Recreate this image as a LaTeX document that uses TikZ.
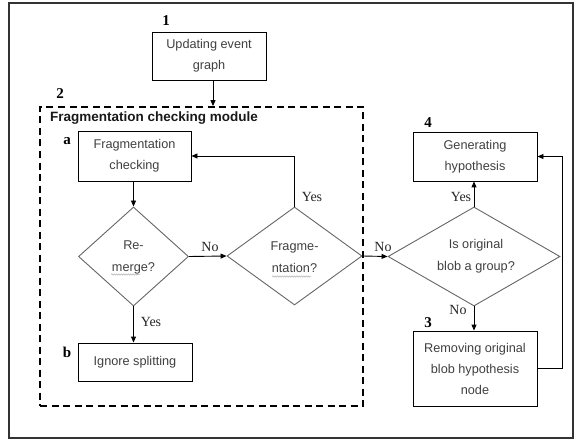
\documentclass[tikz,border=0pt]{standalone}
\usepackage{fontspec}
\setmainfont{Liberation Sans}
\newfontfamily\serifb{Liberation Serif}
\usetikzlibrary{arrows.meta,shapes.geometric,decorations.pathmorphing}
\definecolor{txt}{gray}{0.25}
\definecolor{dline}{gray}{0.4}
\begin{document}
\begin{tikzpicture}[x=1pt,y=-1pt,
  box/.style={draw=black,line width=0.9pt,fill=white,inner sep=0pt,align=center,
    text=txt,font=\fontsize{12.7}{21}\selectfont},
  dia/.style={diamond,draw=dline,line width=0.9pt,fill=white,inner sep=0pt},
  dtext/.style={align=center,text=txt,font=\fontsize{12.7}{22}\selectfont,inner sep=0pt},
  yn/.style={font=\serifb\fontsize{14}{14}\selectfont,inner sep=0pt,text=black!85},
  num/.style={font=\serifb\bfseries\fontsize{15}{15}\selectfont,inner sep=0pt},
  arr/.style={draw=black,line width=0.9pt,-{Triangle[length=6pt,width=5pt]}},
  squig/.style={draw=gray!60,line width=0.5pt,decorate,decoration={snake,amplitude=0.7pt,segment length=2.4pt}}
]
\useasboundingbox (0,0) rectangle (576,441);
\node[draw=black!80,line width=1.6pt,minimum width=564pt,minimum height=435pt,inner sep=0pt] (frame) at (291,220.5) {};

% module
\node[draw=black,line width=1.8pt,dash pattern=on 7pt off 4.5pt,minimum width=323pt,minimum height=299pt,inner sep=0pt] (module) at (201.5,256.5) {};
\node[anchor=west,font=\bfseries\fontsize{13.5}{13.5}\selectfont,inner sep=0pt,text=black!90] (modtitle) at (50,118) {Fragmentation checking module};

% boxes
\node[box,minimum width=114pt,minimum height=48pt] (b1) at (209,56) {Updating event\\graph};
\node[box,minimum width=113pt,minimum height=50pt] (ba) at (134.5,156) {Fragmentation\\checking};
\node[box,minimum width=114pt,minimum height=38pt] (bb) at (135,362) {Ignore splitting};
\node[box,minimum width=124pt,minimum height=49pt] (b4) at (475,156.5) {Generating\\hypothesis};
\node[box,minimum width=124pt,minimum height=75pt] (b3) at (475,368.5) {Removing original\\blob hypothesis\\node};

% diamonds
\node[dia,minimum width=110pt,minimum height=99pt] (rm) at (133.5,256.5) {};
\node[dtext] (rmt) at (133.5,257) {Re-\\merge?};
\node[dia,minimum width=135pt,minimum height=98pt] (fr) at (294.5,256) {};
\node[dtext] (frt) at (294.5,257) {Fragme-\\ntation?};
\node[dia,minimum width=172pt,minimum height=99pt] (io) at (474,256.5) {};
\node[dtext] (iot) at (476,256.5) {Is original\\blob a group?};

% spell-check squiggles
\coordinate (s1a) at (111,274.5); \coordinate (s1b) at (140,274.5);
\coordinate (s2a) at (272,276.5); \coordinate (s2b) at (311,276.5);
\draw[squig] (s1a) -- (s1b);
\draw[squig] (s2a) -- (s2b);

% numbers
\node[num] (n1) at (166,21) {1};
\node[num] (n2) at (60,94) {2};
\node[num] (na) at (67,141) {a};
\node[num] (nb) at (67,352) {b};
\node[num] (n4) at (428,123) {4};
\node[num] (n3) at (428,323) {3};

% connectors
\draw[arr] ([xshift=4pt]b1.south) -- ([xshift=4pt]b1.south |- module.north);
\draw[arr] (ba.south -| rm.north) -- (rm.north);
\draw[arr] (rm.south) -- (rm.south |- bb.north);
\draw[arr] (rm.east) -- (fr.west);
\draw[arr] (fr.north) |- (ba.east);
\draw[arr] (fr.east) -- (io.west);
\draw[arr] (io.north) -- (io.north |- b4.south);
\draw[arr] (io.south) -- (io.south |- b3.north);
\draw[arr] (b3.east) -- ++(25,0) |- (b4.east);

% yes/no labels
\node[yn] (l1) at (210,247) {No};
\node[yn] (l2) at (151,322) {Yes};
\node[yn] (l3) at (312,197) {Yes};
\node[yn] (l4) at (383,247) {No};
\node[yn] (l5) at (461,197) {Yes};
\node[yn] (l6) at (458,310) {No};
\end{tikzpicture}
\end{document}
